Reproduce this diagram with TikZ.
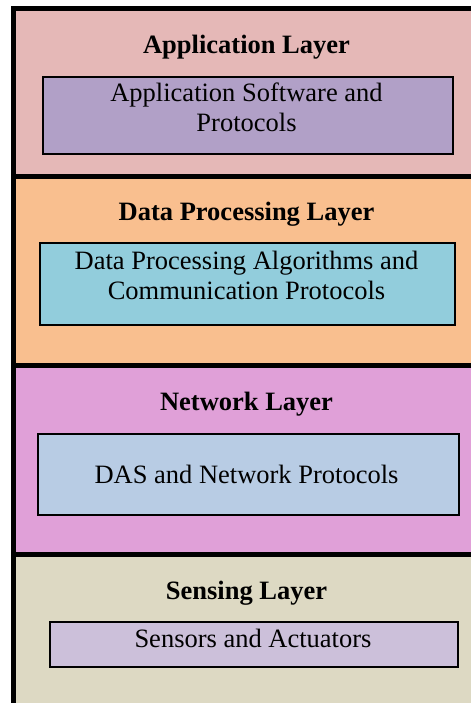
\documentclass[tikz,border=0pt]{standalone}
\usepackage{fontspec}
\setmainfont{Liberation Serif}
\definecolor{appbg}{HTML}{E5B8B7}
\definecolor{appin}{HTML}{B1A0C7}
\definecolor{databg}{HTML}{F9BF8F}
\definecolor{datain}{HTML}{92CDDC}
\definecolor{netbg}{HTML}{E0A0D8}
\definecolor{netin}{HTML}{B8CCE4}
\definecolor{senbg}{HTML}{DDD9C3}
\definecolor{senin}{HTML}{CCC0DA}
\tikzset{
  x=1pt, y=1pt,
  layerbox/.style={draw=none, inner sep=0pt, outer sep=0pt, anchor=north west},
  innerbox/.style={draw=black, line width=2pt, inner sep=0pt, anchor=north west},
  titletext/.style={font=\fontsize{26.5}{31}\selectfont\bfseries, anchor=base, inner sep=0pt},
  bodytext/.style={font=\fontsize{26.5}{31}\selectfont, anchor=base, inner sep=0pt},
}
\begin{document}
\begin{tikzpicture}
\useasboundingbox (0,0) rectangle (471,-703);
% black frame
\fill[black] (11,-6) rectangle (471,-703);
% layers
\node[layerbox, fill=appbg, minimum width=455pt, minimum height=163pt] (applayer) at (16,-11) {};
\node[layerbox, fill=databg, minimum width=455pt, minimum height=184pt] (datalayer) at (16,-179) {};
\node[layerbox, fill=netbg, minimum width=455pt, minimum height=184pt] (netlayer) at (16,-368) {};
\node[layerbox, fill=senbg, minimum width=455pt, minimum height=146pt] (senlayer) at (16,-557) {};
% inner boxes
\node[innerbox, fill=appin, minimum width=410pt, minimum height=77pt] (appbox) at (42,-76) {};
\node[innerbox, fill=datain, minimum width=415pt, minimum height=82pt] (databox) at (39,-242) {};
\node[innerbox, fill=netin, minimum width=421pt, minimum height=81pt] (netbox) at (37,-433) {};
\node[innerbox, fill=senin, minimum width=408pt, minimum height=45pt] (senbox) at (49,-621) {};
% titles
\node[titletext] (apptitle) at (246.5,-54) {Application Layer};
\node[titletext] (datatitle) at (246.5,-221) {Data Processing Layer};
\node[titletext] (nettitle) at (246.5,-410) {Network Layer};
\node[titletext] (sentitle) at (246.5,-599) {Sensing Layer};
% body texts
\node[bodytext] (apptxta) at (246.5,-102) {Application Software and};
\node[bodytext] (apptxtb) at (246.5,-132) {Protocols};
\node[bodytext] (datatxta) at (246.5,-269) {Data Processing Algorithms and};
\node[bodytext] (datatxtb) at (246.5,-299) {Communication Protocols};
\node[bodytext] (nettxt) at (246.5,-483) {DAS and Network Protocols};
\node[bodytext] (sentxt) at (253,-647) {Sensors and Actuators};
\end{tikzpicture}
\end{document}
